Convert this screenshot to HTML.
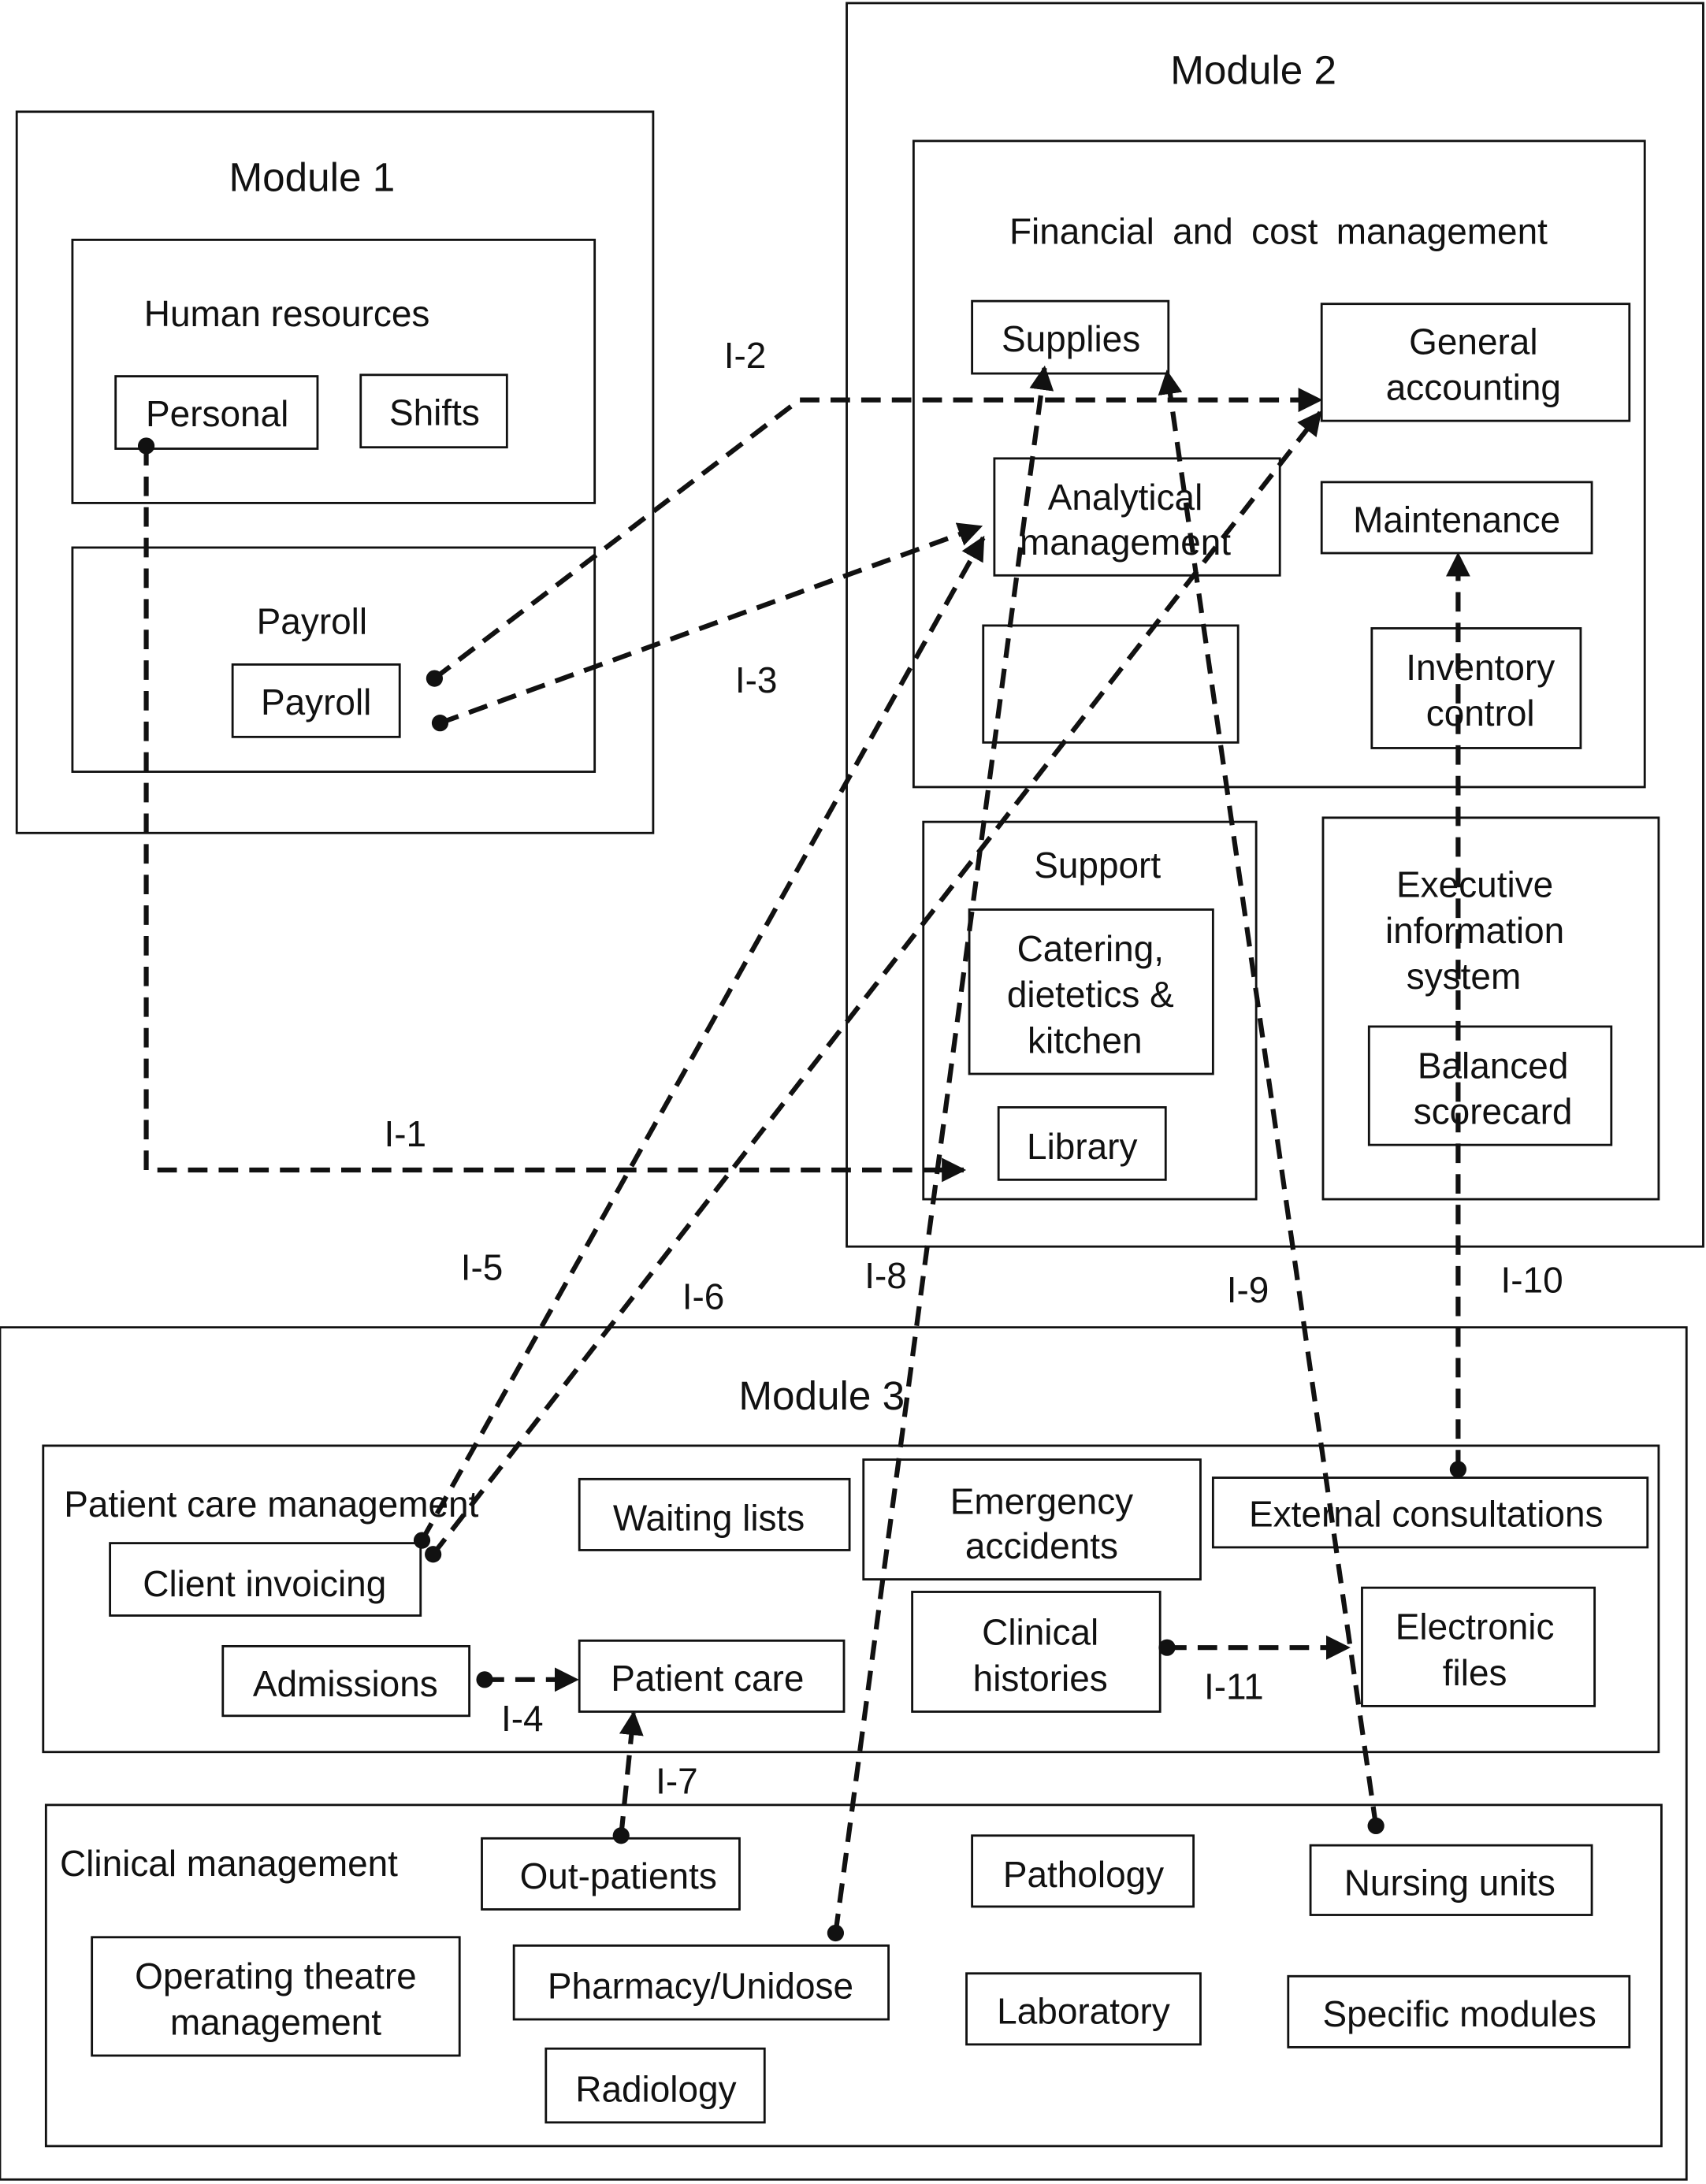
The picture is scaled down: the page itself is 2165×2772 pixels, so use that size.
<!DOCTYPE html>
<html><head><meta charset="utf-8"><style>
html,body{margin:0;padding:0;background:#fff;}
svg{display:block;}
text{font-family:"Liberation Sans",sans-serif;fill:#111;}
</style></head><body>
<svg width="2165" height="2772" viewBox="0 0 1225 1568" xmlns="http://www.w3.org/2000/svg">
<defs>
<marker id="a" markerWidth="6" markerHeight="6" refX="4.5" refY="2.5" orient="auto" markerUnits="strokeWidth">
<path d="M0,0 L5,2.5 L0,5 z" fill="#111"/></marker>
</defs>
<g fill="none" stroke="#111" stroke-width="1.6">
<rect x="12" y="80" width="457" height="518"/>
<rect x="52" y="172" width="375" height="189"/>
<rect x="83" y="270" width="145" height="52"/>
<rect x="259" y="269" width="105" height="52"/>
<rect x="52" y="393" width="375" height="161"/>
<rect x="167" y="477" width="120" height="52"/>
<rect x="608" y="2" width="615" height="893"/>
<rect x="656" y="101" width="525" height="464"/>
<rect x="698" y="216" width="141" height="52"/>
<rect x="949" y="218" width="221" height="84"/>
<rect x="714" y="329" width="205" height="84"/>
<rect x="949" y="346" width="194" height="51"/>
<rect x="706" y="449" width="183" height="84"/>
<rect x="985" y="451" width="150" height="86"/>
<rect x="663" y="590" width="239" height="271"/>
<rect x="696" y="653" width="175" height="118"/>
<rect x="717" y="795" width="120" height="52"/>
<rect x="950" y="587" width="241" height="274"/>
<rect x="983" y="737" width="174" height="85"/>
<rect x="0" y="953" width="1211" height="612"/>
<rect x="31" y="1038" width="1160" height="220"/>
<rect x="416" y="1062" width="194" height="51"/>
<rect x="620" y="1048" width="242" height="86"/>
<rect x="871" y="1061" width="312" height="50"/>
<rect x="79" y="1108" width="223" height="52"/>
<rect x="160" y="1182" width="177" height="50"/>
<rect x="416" y="1178" width="190" height="51"/>
<rect x="655" y="1143" width="178" height="86"/>
<rect x="978" y="1140" width="167" height="85"/>
<rect x="33" y="1296" width="1160" height="245"/>
<rect x="346" y="1320" width="185" height="51"/>
<rect x="698" y="1318" width="159" height="51"/>
<rect x="941" y="1325" width="202" height="50"/>
<rect x="66" y="1391" width="264" height="85"/>
<rect x="369" y="1397" width="269" height="53"/>
<rect x="694" y="1417" width="168" height="51"/>
<rect x="925" y="1419" width="245" height="51"/>
<rect x="392" y="1471" width="157" height="53"/>
</g>
<g font-size="26" text-anchor="middle">
<text x="224" y="137" font-size="29">Module 1</text>
<text x="900" y="60" font-size="29">Module 2</text>
<text x="590" y="1012" font-size="29">Module 3</text>
<text x="206" y="234">Human resources</text>
<text x="156" y="306">Personal</text>
<text x="312" y="305">Shifts</text>
<text x="224" y="455">Payroll</text>
<text x="227" y="513">Payroll</text>
<text x="918" y="175" word-spacing="6">Financial and cost management</text>
<text x="769" y="252">Supplies</text>
<text x="1058" y="254">General</text>
<text x="1058" y="287">accounting</text>
<text x="808" y="366">Analytical</text>
<text x="808" y="398">management</text>
<text x="1046" y="382">Maintenance</text>
<text x="1063" y="488">Inventory</text>
<text x="1063" y="521">control</text>
<text x="788" y="630">Support</text>
<text x="783" y="690">Catering,</text>
<text x="783" y="723">dietetics &amp;</text>
<text x="779" y="756">kitchen</text>
<text x="777" y="832">Library</text>
<text x="1059" y="644">Executive</text>
<text x="1059" y="677">information</text>
<text x="1051" y="710">system</text>
<text x="1072" y="774">Balanced</text>
<text x="1072" y="807">scorecard</text>
<text x="46" y="1089" text-anchor="start">Patient care management</text>
<text x="509" y="1099">Waiting lists</text>
<text x="748" y="1087">Emergency</text>
<text x="748" y="1119">accidents</text>
<text x="1024" y="1096">External consultations</text>
<text x="190" y="1146">Client invoicing</text>
<text x="248" y="1218">Admissions</text>
<text x="508" y="1214">Patient care</text>
<text x="747" y="1181">Clinical</text>
<text x="747" y="1214">histories</text>
<text x="1059" y="1177">Electronic</text>
<text x="1059" y="1210">files</text>
<text x="43" y="1347" text-anchor="start">Clinical management</text>
<text x="444" y="1356">Out-patients</text>
<text x="778" y="1355">Pathology</text>
<text x="1041" y="1361">Nursing units</text>
<text x="198" y="1428">Operating theatre</text>
<text x="198" y="1461">management</text>
<text x="503" y="1435">Pharmacy/Unidose</text>
<text x="778" y="1453">Laboratory</text>
<text x="1048" y="1455">Specific modules</text>
<text x="471" y="1509">Radiology</text>
<text x="291" y="823">I-1</text>
<text x="535" y="264">I-2</text>
<text x="543" y="497">I-3</text>
<text x="375" y="1243">I-4</text>
<text x="346" y="919">I-5</text>
<text x="505" y="940">I-6</text>
<text x="486" y="1288">I-7</text>
<text x="636" y="925">I-8</text>
<text x="896" y="935">I-9</text>
<text x="1100" y="928">I-10</text>
<text x="886" y="1220">I-11</text>
</g>
<g fill="none" stroke="#111" stroke-width="3.5" stroke-dasharray="14,8" marker-end="url(#a)">
<polyline points="105,320 105,840 692,840"/>
<polyline points="312,487 574,287 948,287"/>
<line x1="316" y1="519" x2="704" y2="378"/>
<line x1="303" y1="1106" x2="706" y2="386"/>
<line x1="311" y1="1116" x2="948" y2="296"/>
<line x1="600" y1="1388" x2="750" y2="264"/>
<line x1="988" y1="1311" x2="838" y2="267"/>
<line x1="1047" y1="1055" x2="1047" y2="398"/>
<line x1="348" y1="1206" x2="414" y2="1206"/>
<line x1="446" y1="1318" x2="455" y2="1230"/>
<line x1="838" y1="1183" x2="968" y2="1183"/>
</g>
<g fill="#111">
<circle cx="105" cy="320" r="6"/><circle cx="312" cy="487" r="6"/><circle cx="316" cy="519" r="6"/>
<circle cx="303" cy="1106" r="6"/><circle cx="311" cy="1116" r="6"/><circle cx="600" cy="1388" r="6"/>
<circle cx="988" cy="1311" r="6"/><circle cx="1047" cy="1055" r="6"/><circle cx="348" cy="1206" r="6"/>
<circle cx="446" cy="1318" r="6"/><circle cx="838" cy="1183" r="6"/>
</g>
</svg>
</body></html>
